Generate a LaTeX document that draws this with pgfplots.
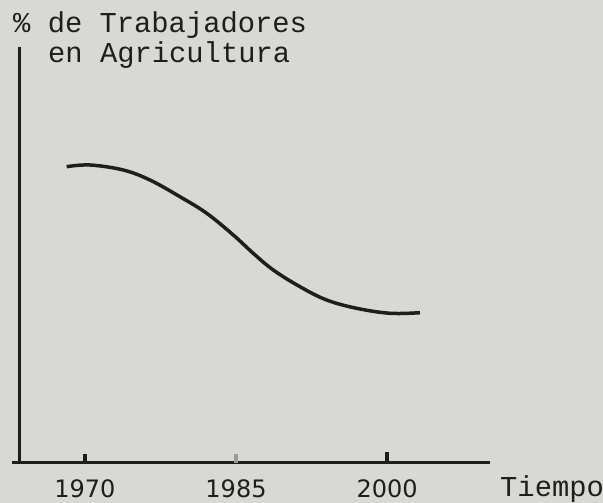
\documentclass[border=0pt]{standalone}
\usepackage{pgfplots}
\pgfplotsset{compat=1.18}
\usepackage{fontspec}
\setmainfont{Liberation Mono}
\newfontfamily\tickfont{DejaVu Sans}
\definecolor{paper}{RGB}{216,216,212}
\definecolor{ink}{RGB}{30,30,30}
\begin{document}
\begin{tikzpicture}
\fill[paper] (0pt,0pt) rectangle (603pt,503pt);
\useasboundingbox (0pt,0pt) rectangle (603pt,503pt);
\begin{axis}[
  at={(20pt,40pt)}, anchor=origin,
  scale only axis, width=470pt, height=416pt,
  xmin=1963.55, xmax=2010.22, ymin=0, ymax=416,
  axis x line=bottom, axis y line=left,
  every outer x axis line/.append style={draw=ink, line width=3pt, -, shorten <=-8pt},
  every outer y axis line/.append style={draw=ink, line width=3pt, -},
  xtick={1970,1985,2000}, xticklabels={1970,1985,2000},
  ytick=\empty,
  major tick length=0pt,
  xticklabel style={font=\tickfont\fontsize{24}{26}\selectfont, text=ink, inner sep=0pt, anchor=north, yshift=-16pt},
  clip=false,
]
\addplot[ink, line width=3.5pt, smooth, tension=0.6] coordinates {
 (1968.18,296.3) (1970.50,298) (1973.80,293) (1976.45,283) (1979.43,266.3)
 (1982.09,249.7) (1984.73,228) (1986.71,209.7) (1988.70,193) (1991.35,176.3)
 (1994.00,163) (1996.98,154.7) (2000.29,149.7) (2003.27,150.3)
};
\draw[ink, line width=3.5pt] (axis cs:1970,0) -- (axis cs:1970,9);
\draw[ink!45, line width=3.5pt] (axis cs:1985,0) -- (axis cs:1985,9);
\draw[ink, line width=3.5pt] (axis cs:2000,0) -- (axis cs:2000,11);
\end{axis}
\node[anchor=base west, inner sep=0, text=ink, font=\fontsize{28.8}{30}\selectfont] at (13pt,470pt) {\% de Trabajadores};
\node[anchor=base west, inner sep=0, text=ink, font=\fontsize{28.8}{30}\selectfont] at (48pt,440pt) {en Agricultura};
\node[anchor=base west, inner sep=0, text=ink, font=\fontsize{28.8}{30}\selectfont] at (500pt,6pt) {Tiempo};
\end{tikzpicture}
\end{document}
